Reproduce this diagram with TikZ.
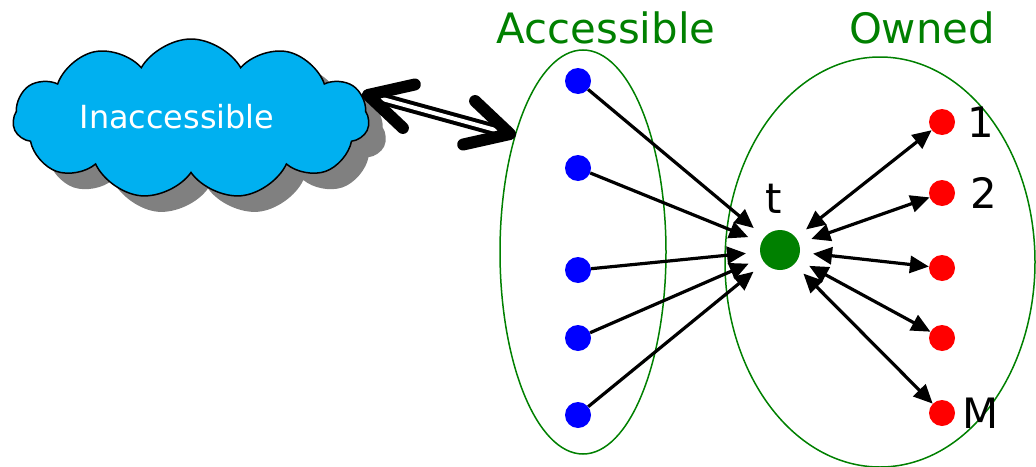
\documentclass[tikz,border=0pt]{standalone}
\usepackage{fontspec}
\setmainfont{DejaVu Sans}
\usepackage{tikz}
\usetikzlibrary{arrows.meta,shapes.symbols,shapes.geometric,calc}
\definecolor{cloudblue}{RGB}{0,176,240}
\definecolor{setgreen}{RGB}{0,128,0}

\begin{document}
\begin{tikzpicture}[
  acc/.style={circle,fill=blue,minimum size=26bp,inner sep=0pt},
  own/.style={circle,fill=red,minimum size=26bp,inner sep=0pt},
  setline/.style={draw=setgreen,line width=1.5bp},
  settitle/.style={text=setgreen,font=\fontsize{42}{46}\selectfont},
  biglabel/.style={font=\fontsize{42}{46}\selectfont},
  puffy/.style={cloud,cloud puffs=11,cloud puff arc=120,aspect=2.2,minimum width=356bp,minimum height=160bp},
  edge/.style={line width=3.2bp,-{Triangle[length=19bp,width=17bp]}},
  dedge/.style={line width=3.2bp,{Triangle[length=19bp,width=17bp]}-{Triangle[length=19bp,width=17bp]}},
  barb/.style={line width=12bp,line cap=round,line join=round}]
\useasboundingbox (0bp,0bp) rectangle (1036bp,-467bp);
% cloud with its shadow
\node (shadow) at (208bp,-135bp)[puffy,fill=black!50] {};
\node (cloud) at (191bp,-119bp)[puffy,draw,line width=1.5bp,fill=cloudblue] {};
\node (cloudtext) at (177bp,-117bp)[text=white,font=\fontsize{32}{36}\selectfont] {Inaccessible};
% the two sets
\node (accset) at (583bp,-252bp)[ellipse,setline,minimum width=166bp,minimum height=404bp] {};
\node (ownset) at (880bp,-262bp)[ellipse,setline,minimum width=310bp,minimum height=410bp] {};
\node (acctitle) at (606bp,-28bp)[settitle] {Accessible};
\node (owntitle) at (922bp,-28bp)[settitle] {Owned};
% double arrow between cloud and accessible set
\coordinate (L) at (368bp,-95bp);
\coordinate (R) at (510bp,-134bp);
\draw[line width=4bp,double=white,double distance=4bp] ($(L)!12bp!(R)$) -- ($(R)!12bp!(L)$);
\draw[barb] ($(L)!48bp!28:(R)$) -- (L) -- ($(L)!48bp!-28:(R)$);
\draw[barb] ($(R)!48bp!28:(L)$) -- (R) -- ($(R)!48bp!-28:(L)$);
% nodes
\node (a1) at (578bp,-81bp)[acc] {};
\node (a2) at (578bp,-168bp)[acc] {};
\node (a3) at (578bp,-270bp)[acc] {};
\node (a4) at (578bp,-338bp)[acc] {};
\node (a5) at (578bp,-415bp)[acc] {};
\node (t) at (780bp,-250bp)[circle,fill=setgreen,minimum size=40bp,inner sep=0pt] {};
\node (tlabel) at (774bp,-199bp)[biglabel] {t};
\node (o1) at (942bp,-122bp)[own] {};
\node (o2) at (942bp,-193bp)[own] {};
\node (o3) at (942bp,-268bp)[own] {};
\node (o4) at (942bp,-338bp)[own] {};
\node (o5) at (942bp,-413bp)[own] {};
\node (l1) at (981bp,-122bp)[biglabel] {1};
\node (l2) at (984bp,-193bp)[biglabel] {2};
\node (lM) at (962bp,-413bp)[biglabel,anchor=west,inner sep=0pt] {M};
% edges into t
\draw [edge,shorten >=14bp] (a1) -- (t);
\draw [edge,shorten >=14bp] (a2) -- (t);
\draw [edge,shorten >=14bp] (a3) -- (t);
\draw [edge,shorten >=14bp] (a4) -- (t);
\draw [edge,shorten >=14bp] (a5) -- (t);
\draw [dedge,shorten <=13bp] (t) -- (o1);
\draw [dedge,shorten <=13bp] (t) -- (o2);
\draw [dedge,shorten <=13bp] (t) -- (o3);
\draw [dedge,shorten <=13bp] (t) -- (o4);
\draw [dedge,shorten <=13bp] (t) -- (o5);
\end{tikzpicture}
\end{document}
